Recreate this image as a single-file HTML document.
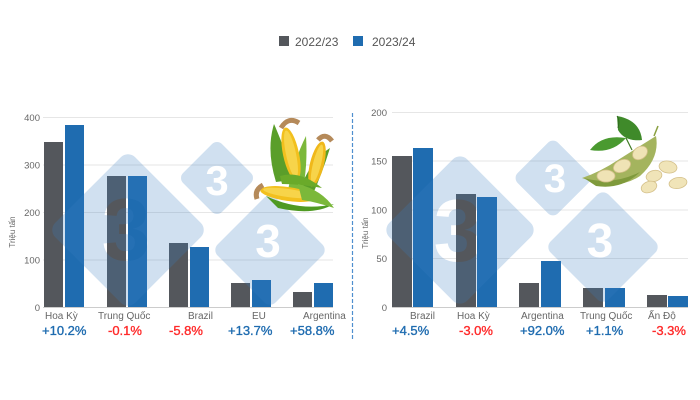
<!DOCTYPE html>
<html><head><meta charset="utf-8">
<style>
html,body{margin:0;padding:0;background:#fff;}
svg{display:block;font-family:"Liberation Sans","DejaVu Sans",sans-serif;}
</style></head>
<body>
<svg width="700" height="400" viewBox="0 0 700 400" xmlns="http://www.w3.org/2000/svg">
<defs>
<mask id="wm" maskUnits="userSpaceOnUse" x="0" y="0" width="700" height="400">
  <rect x="0" y="0" width="700" height="400" fill="black"/>
  <rect x="71.5" y="173.5" width="113" height="113" rx="10" transform="rotate(45 128 230)" fill="white"/>
  <rect x="189.5" y="150.5" width="55" height="55" rx="7" transform="rotate(45 217 178)" fill="white"/>
  <rect x="229" y="209" width="82" height="82" rx="8" transform="rotate(45 270 250)" fill="white"/>
  <rect x="405" y="175" width="110" height="110" rx="10" transform="rotate(45 460 230)" fill="white"/>
  <rect x="524.5" y="149.5" width="57" height="57" rx="7" transform="rotate(45 553 178)" fill="white"/>
  <rect x="562" y="206" width="82" height="82" rx="8" transform="rotate(45 603 247)" fill="white"/>
  <g fill="black" font-weight="bold" text-anchor="middle" font-family="Liberation Sans, sans-serif">
    <text x="126" y="260" font-size="88">3</text>
    <text x="217" y="195" font-size="42">3</text>
    <text x="268" y="257" font-size="46">3</text>
    <text x="458" y="261" font-size="88">3</text>
    <text x="555" y="192" font-size="40">3</text>
    <text x="600" y="257" font-size="48">3</text>
  </g>
</mask>
</defs>

<rect x="279" y="36" width="10" height="10" fill="#54575c"/>
<text x="295" y="46" font-size="12" fill="#555">2022/23</text>
<rect x="353" y="36" width="10" height="10" fill="#1f6cb0"/>
<text x="372" y="46" font-size="12" fill="#555">2023/24</text>

<g stroke="#e6e6e6" stroke-width="1">
  <line x1="43" y1="117.5" x2="333" y2="117.5"/>
  <line x1="43" y1="165" x2="333" y2="165"/>
  <line x1="43" y1="212.5" x2="333" y2="212.5"/>
  <line x1="43" y1="260" x2="333" y2="260"/>
</g>
<g font-size="9.5" fill="#666" text-anchor="end">
  <text x="40" y="121">400</text>
  <text x="40" y="168.5">300</text>
  <text x="40" y="216">200</text>
  <text x="40" y="263.5">100</text>
  <text x="40" y="311">0</text>
</g>
<text x="0" y="0" font-size="8" fill="#666" text-anchor="middle" transform="translate(15 232) rotate(-90)">Triệu tấn</text>

<g fill="#54575c">
  <rect x="44" y="142" width="19" height="165"/>
  <rect x="107" y="176" width="19" height="131"/>
  <rect x="169" y="243" width="19" height="64"/>
  <rect x="231" y="283" width="19" height="24"/>
  <rect x="293" y="292" width="19" height="15"/>
</g>
<g fill="#1f6cb0">
  <rect x="65" y="125" width="19" height="182"/>
  <rect x="128" y="176" width="19" height="131"/>
  <rect x="190" y="247" width="19" height="60"/>
  <rect x="252" y="280" width="19" height="27"/>
  <rect x="314" y="283" width="19" height="24"/>
</g>
<line x1="43" y1="307.5" x2="333" y2="307.5" stroke="#ccc" stroke-width="1"/>

<g font-size="10" fill="#666">
  <text x="45" y="319">Hoa Kỳ</text>
  <text x="98" y="319">Trung Quốc</text>
  <text x="188" y="319">Brazil</text>
  <text x="252" y="319">EU</text>
  <text x="303" y="319">Argentina</text>
</g>
<g font-size="13" stroke-width="0.35">
  <text x="42" y="335" fill="#1f6cb0" stroke="#1f6cb0">+10.2%</text>
  <text x="108" y="335" fill="#ff2a2a" stroke="#ff2a2a">-0.1%</text>
  <text x="169" y="335" fill="#ff2a2a" stroke="#ff2a2a">-5.8%</text>
  <text x="228" y="335" fill="#1f6cb0" stroke="#1f6cb0">+13.7%</text>
  <text x="290" y="335" fill="#1f6cb0" stroke="#1f6cb0">+58.8%</text>
</g>

<line x1="352.5" y1="113" x2="352.5" y2="340" stroke="#4f8fcf" stroke-width="1.2" stroke-dasharray="4 2"/>

<g stroke="#e6e6e6" stroke-width="1">
  <line x1="392" y1="112.5" x2="688" y2="112.5"/>
  <line x1="392" y1="161" x2="688" y2="161"/>
  <line x1="392" y1="210" x2="688" y2="210"/>
  <line x1="392" y1="258.5" x2="688" y2="258.5"/>
</g>
<g font-size="9.5" fill="#666" text-anchor="end">
  <text x="387" y="116">200</text>
  <text x="387" y="164.5">150</text>
  <text x="387" y="213.5">100</text>
  <text x="387" y="262">50</text>
  <text x="387" y="311">0</text>
</g>
<text x="0" y="0" font-size="8" fill="#666" text-anchor="middle" transform="translate(368 233) rotate(-90)">Triệu tấn</text>

<g fill="#54575c">
  <rect x="392" y="156" width="20" height="151"/>
  <rect x="456" y="194" width="20" height="113"/>
  <rect x="519" y="283" width="20" height="24"/>
  <rect x="583" y="288" width="20" height="19"/>
  <rect x="647" y="295" width="20" height="12"/>
</g>
<g fill="#1f6cb0">
  <rect x="413" y="148" width="20" height="159"/>
  <rect x="477" y="197" width="20" height="110"/>
  <rect x="541" y="261" width="20" height="46"/>
  <rect x="605" y="288" width="20" height="19"/>
  <rect x="668" y="296" width="20" height="11"/>
</g>
<line x1="392" y1="307.5" x2="688" y2="307.5" stroke="#ccc" stroke-width="1"/>

<g font-size="10" fill="#666">
  <text x="410" y="319">Brazil</text>
  <text x="457" y="319">Hoa Kỳ</text>
  <text x="521" y="319">Argentina</text>
  <text x="580" y="319">Trung Quốc</text>
  <text x="648" y="319">Ấn Độ</text>
</g>
<g font-size="13" stroke-width="0.35">
  <text x="392" y="335" fill="#1f6cb0" stroke="#1f6cb0">+4.5%</text>
  <text x="459" y="335" fill="#ff2a2a" stroke="#ff2a2a">-3.0%</text>
  <text x="520" y="335" fill="#1f6cb0" stroke="#1f6cb0">+92.0%</text>
  <text x="586" y="335" fill="#1f6cb0" stroke="#1f6cb0">+1.1%</text>
  <text x="652" y="335" fill="#ff2a2a" stroke="#ff2a2a">-3.3%</text>
</g>

<rect x="0" y="0" width="700" height="400" fill="#3a7fc0" fill-opacity="0.24" mask="url(#wm)"/>

<!-- Corn -->
<g>
  <path d="M276 182 Q266 150 274 124 Q286 150 292 180 Z" fill="#5a9e2a"/>
  <path d="M298 194 Q310 160 330 148 Q322 174 312 196 Z" fill="#5a9e2a"/>
  <path d="M288 190 Q294 160 306 136 Q308 166 302 194 Z" fill="#7bb83a"/>
  <ellipse cx="291" cy="154" rx="8" ry="27" transform="rotate(-12 291 154)" fill="#f2c01e"/>
  <ellipse cx="291" cy="154" rx="5" ry="24" transform="rotate(-12 291 154)" fill="#f7d44a"/>
  <path d="M281 128 Q288 116 299 123" stroke="#b58a5a" stroke-width="5" fill="none"/>
  <ellipse cx="317" cy="164" rx="7" ry="23" transform="rotate(14 317 164)" fill="#f0b81a"/>
  <ellipse cx="317" cy="164" rx="4" ry="20" transform="rotate(14 317 164)" fill="#f7d44a"/>
  <path d="M318 140 Q325 132 332 141" stroke="#b58a5a" stroke-width="5" fill="none"/>
  <path d="M280 176 Q300 170 322 188 Q300 184 282 184 Z" fill="#6aaa2a"/>
  <path d="M266 196 Q300 212 334 204 Q314 216 278 208 Z" fill="#4f9a22"/>
  <ellipse cx="288" cy="194" rx="28" ry="7" transform="rotate(8 288 194)" fill="#f2c01e"/>
  <ellipse cx="288" cy="193" rx="25" ry="4" transform="rotate(8 288 193)" fill="#f7d44a"/>
  <path d="M263 185 Q254 190 257 199" stroke="#b58a5a" stroke-width="5" fill="none"/>
  <path d="M298 184 Q322 190 334 208 Q316 202 302 200 Z" fill="#7bb83a"/>
</g>

<!-- Soybean -->
<g>
  <path d="M617 116 Q640 120 642 140 Q625 142 618 130 Z" fill="#3f8a2a"/>
  <path d="M618 128 Q620 120 617 116" stroke="#2f6a1e" fill="none"/>
  <path d="M590 150 Q602 134 626 138 Q612 154 590 150 Z" fill="#4a9a30"/>
  <path d="M626 138 L632 150" stroke="#3f7a22" stroke-width="1.2"/>
  <path d="M582 178 Q600 172 618 160 Q640 146 656 136 Q660 158 640 176 Q616 192 582 178 Z" fill="#a4b45e"/>
  <path d="M584 178 Q612 186 640 172 Q622 190 596 186 Z" fill="#7f9a3c"/>
  <ellipse cx="606" cy="176" rx="9" ry="6" fill="#efe3b5" stroke="#d4c08a" stroke-width="0.8"/>
  <ellipse cx="622" cy="166" rx="9" ry="6" transform="rotate(-25 622 166)" fill="#efe3b5" stroke="#d4c08a" stroke-width="0.8"/>
  <ellipse cx="640" cy="153" rx="8" ry="6" transform="rotate(-35 640 153)" fill="#efe3b5" stroke="#d4c08a" stroke-width="0.8"/>
  <path d="M654 136 L658 126" stroke="#8aa040" stroke-width="1.5"/>
  <ellipse cx="668" cy="167" rx="9" ry="6" transform="rotate(10 668 167)" fill="#f0e4b8" stroke="#d4c08a" stroke-width="0.8"/>
  <ellipse cx="654" cy="176" rx="8" ry="5.5" transform="rotate(-15 654 176)" fill="#f0e4b8" stroke="#d4c08a" stroke-width="0.8"/>
  <ellipse cx="678" cy="183" rx="9" ry="5.5" transform="rotate(-10 678 183)" fill="#f0e4b8" stroke="#d4c08a" stroke-width="0.8"/>
  <ellipse cx="649" cy="187" rx="8" ry="5.5" transform="rotate(-20 649 187)" fill="#f0e4b8" stroke="#d4c08a" stroke-width="0.8"/>
</g>
</svg>
</body></html>
